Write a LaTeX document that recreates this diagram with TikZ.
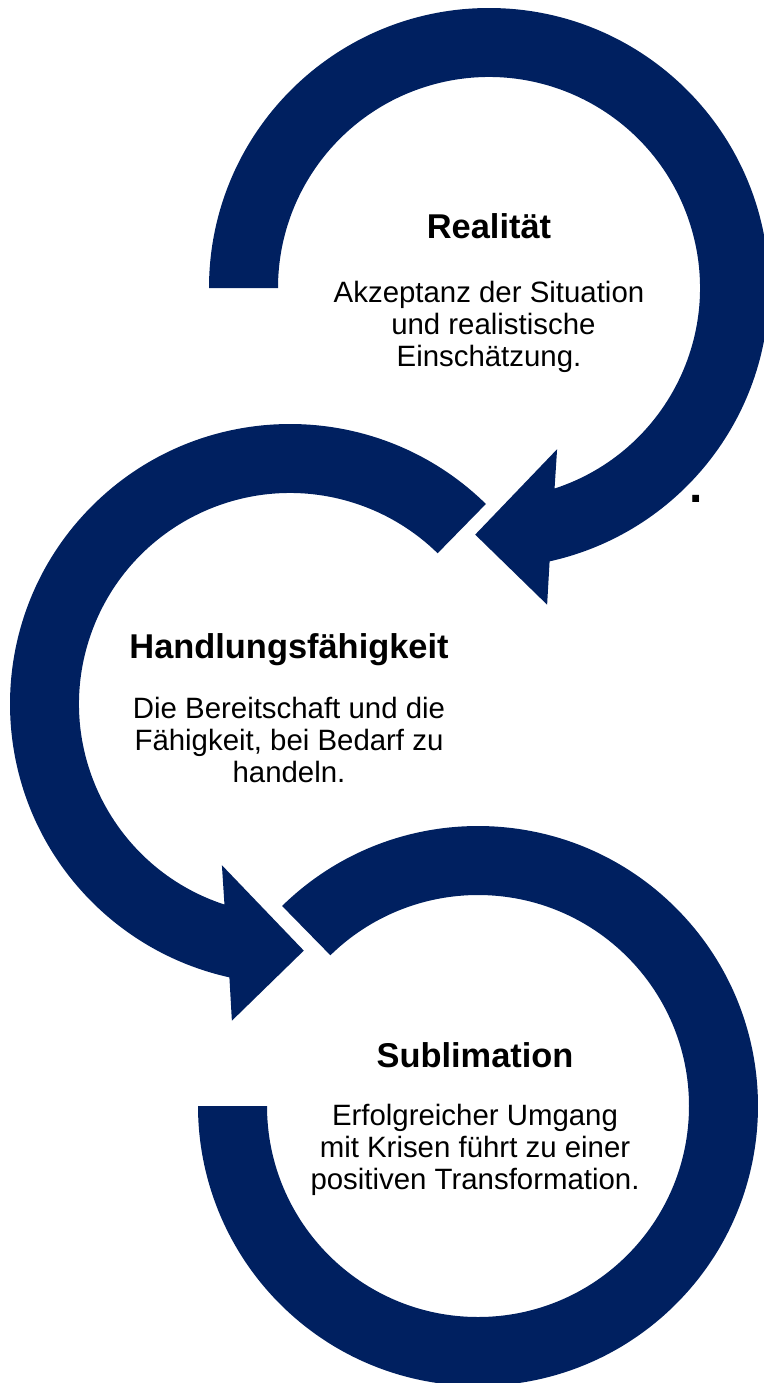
\documentclass[tikz,border=0pt]{standalone}
\usepackage{fontspec}
\setmainfont{Liberation Sans}
\usepackage{tikz}
\usetikzlibrary{calc}
\definecolor{kreisblau}{RGB}{0,32,96}

\begin{document}
\begin{tikzpicture}[x=0.5pt,y=0.5pt,
    titel/.style={font=\fontsize{17.2}{20}\selectfont\bfseries},
    beschreibung/.style={font=\fontsize{14.7}{16}\selectfont,align=center},
    punkt/.style={font=\fontsize{24}{28}\selectfont\bfseries,inner sep=0pt}]
  \useasboundingbox (0,0) rectangle (764,-1383);
  % Pfeile (I) und (II): Ring mit Spitze, (II) gespiegelt
  \foreach \mx/\my/\sx/\a in {489/-288/1/180, 290/-704/-1/134.4}{
    \begin{scope}[shift={(\mx,\my)},xscale=\sx]
      \fill[kreisblau] (\a:280) arc[start angle=\a,end angle=-77.5,radius=280]
        -- (-79.6:322) -- (-93.2:247) -- (-67.1:175) -- (-71.9:211)
        arc[start angle=-71.9,end angle=\a,radius=211] -- cycle;
    \end{scope}
  }
  % Ring (III): ohne Spitze
  \begin{scope}[shift={(478,-1106)}]
    \fill[kreisblau] (134.4:280) arc[start angle=134.4,end angle=-180,radius=280]
      -- (180:211) arc[start angle=-180,end angle=134.4,radius=211] -- cycle;
  \end{scope}
  % Texte
  \node[titel] (realitaet) at (489,-226) {Realität};
  \node[beschreibung] (realitaet-text) at (489,-327)
    {Akzeptanz der Situation\\ \hspace*{0.3em}und realistische\\ Einschätzung.};
  \node[titel] (handlung) at (289,-650) {Handlungsfähigkeit};
  \node[beschreibung] (handlung-text) at (289,-740)
    {Die Bereitschaft und die\\ Fähigkeit, bei Bedarf zu\\ handeln.};
  \node[titel] (sublimation) at (475,-1055) {Sublimation};
  \node[beschreibung] (sublimation-text) at (475,-1150)
    {Erfolgreicher Umgang\\ mit Krisen führt zu einer\\ positiven Transformation.};
  \node[punkt] (punkt) at (696,-499) {.};
\end{tikzpicture}
\end{document}
